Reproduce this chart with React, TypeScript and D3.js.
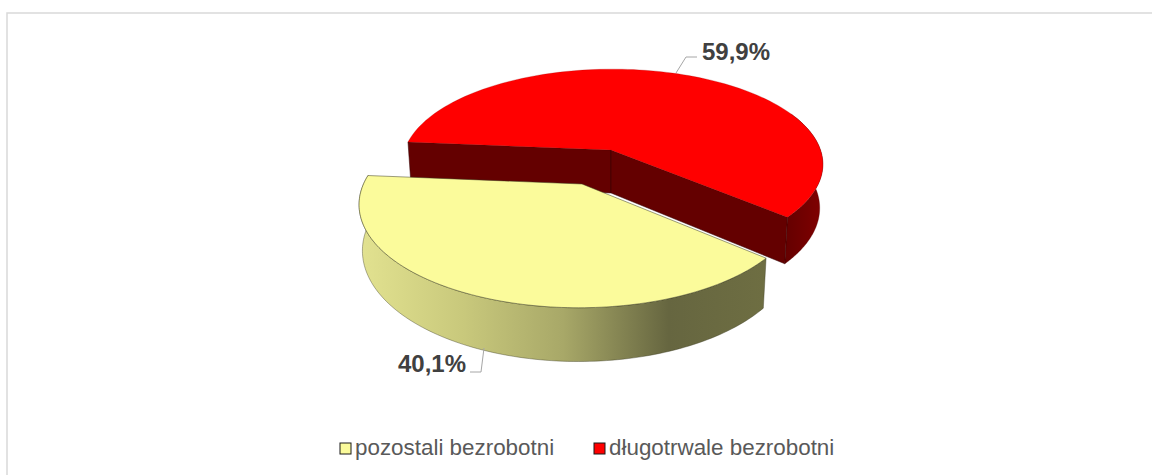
import React from "react";
import * as d3 from "d3";

const names = ["długotrwale bezrobotni", "pozostali bezrobotni"];
const values = [59.9, 40.1];
const labels = ["59,9%", "40,1%"];
const topColors = ["#ff0000", "#fbfb9b"];
const legendOrder = [1, 0];

const W = 1152, H = 475;
const startDeg = -85;

type Geo = { x0: number; y0: number; ox: number; rx: number; ry: number; k: number; depth: number; shrink: number };
const geos: Geo[] = [
  { x0: 611, y0: 150, ox: 1.5, rx: 208, ry: 93, k: 0.15, depth: 43, shrink: 0.985 },
  { x0: 582, y0: 184, ox: -3.5, rx: 215, ry: 99, k: 0.2, depth: 44.5, shrink: 0.985 },
];

const slices = d3.pie<number>().sort(null).startAngle((startDeg * Math.PI) / 180).endAngle(((startDeg + 360) * Math.PI) / 180)(values);

const line = d3.line<[number, number]>();

function project(g: Geo, a: number, low: boolean): [number, number] {
  const u = Math.sin(a), v = -Math.cos(a);
  const s = 1 / (1 - g.k * v);
  const f = low ? g.shrink : 1;
  return [g.x0 + (g.ox + g.rx * u * s) * f, g.y0 + g.ry * v * s * f + (low ? g.depth * s : 0)];
}
function ring(g: Geo, a0: number, a1: number, low: boolean): [number, number][] {
  return d3.range(0, 121).map((i) => project(g, a0 + ((a1 - a0) * i) / 120, low));
}
const apex = (g: Geo, low: boolean): [number, number] => [g.x0, g.y0 + (low ? g.depth : 0)];
const front = (g: Geo, a0: number, a1: number) => {
  const from = Math.max(a0, Math.PI / 2 - 0.42);
  const to = Math.min(a1, (3 * Math.PI) / 2 + 0.1);
  return [from, to];
};

export default function App() {
  const [red, yel] = slices;
  const gr = geos[0], gy = geos[1];
  const [rf0] = front(gr, red.startAngle, red.endAngle);
  const [yf0, yf1] = front(gy, yel.startAngle, yel.endAngle);
  const wall = (g: Geo, a: number) => {
    const t = project(g, a, false), b = project(g, a, true);
    return line([apex(g, false), t, b, apex(g, true)]) + "Z";
  };
  const side = (g: Geo, a0: number, a1: number) =>
    line([...ring(g, a0, a1, false), ...ring(g, a0, a1, true).reverse()]) + "Z";
  const top = (g: Geo, a0: number, a1: number) => line([apex(g, false), ...ring(g, a0, a1, false)]) + "Z";
  const edge = "#3a3a20";
  return (
    <svg width={W} height={H} style={{ position: "absolute", left: 0, top: 0, fontFamily: "'Liberation Sans', Arial, sans-serif" }}>
      <defs>
        <linearGradient id="ys" gradientUnits="userSpaceOnUse" x1={360} x2={766} y1={0} y2={0}>
          <stop offset="0" stopColor="#e2e290" />
          <stop offset="0.25" stopColor="#c9c97c" />
          <stop offset="0.5" stopColor="#a8a868" />
          <stop offset="0.76" stopColor="#666640" />
          <stop offset="1" stopColor="#6e6e42" />
        </linearGradient>
        <linearGradient id="rs" gradientUnits="userSpaceOnUse" x1={785} x2={822} y1={0} y2={0}>
          <stop offset="0" stopColor="#640000" />
          <stop offset="1" stopColor="#800000" />
        </linearGradient>
      </defs>
      <rect x={7} y={13} width={W + 20} height={H + 20} fill="#fff" stroke="#d9d9d9" strokeWidth={1.5} />

      <path d={wall(gr, red.startAngle)} fill="#640000" stroke="#300000" strokeWidth={0.5} />
      <path d={side(gr, rf0, red.endAngle)} fill="url(#rs)" stroke="#500000" strokeWidth={0.3} />
      <path d={wall(gr, red.endAngle)} fill="#640000" stroke="#300000" strokeWidth={0.5} />
      <path d={top(gr, red.startAngle, red.endAngle)} fill={topColors[0]} stroke="#a00000" strokeWidth={0.25} />

      <path d={side(gy, yf0, yf1)} fill="url(#ys)" stroke={edge} strokeWidth={0.4} />
      <path d={top(gy, yel.startAngle, yel.endAngle)} fill={topColors[1]} stroke={edge} strokeWidth={0.5} />

      <polyline points="676,73 686,57 697,57" fill="none" stroke="#a6a6a6" strokeWidth={1} />
      <polyline points="484,348 481,372 470,372" fill="none" stroke="#a6a6a6" strokeWidth={1} />
      <text x={702} y={60} fontSize={24} fontWeight="bold" fill="#404040">{labels[0]}</text>
      <text x={398} y={372} fontSize={24} fontWeight="bold" fill="#404040">{labels[1]}</text>

      {legendOrder.map((idx, i) => {
        const sx = [340, 594][i], tx = [355, 609][i];
        return (
          <g key={idx}>
            <rect x={sx} y={443} width={11} height={11} fill={topColors[idx]} stroke="#1a1a1a" strokeWidth={1} />
            <text x={tx} y={455} fontSize={22.4} fill="#595959">{names[idx]}</text>
          </g>
        );
      })}
    </svg>
  );
}
